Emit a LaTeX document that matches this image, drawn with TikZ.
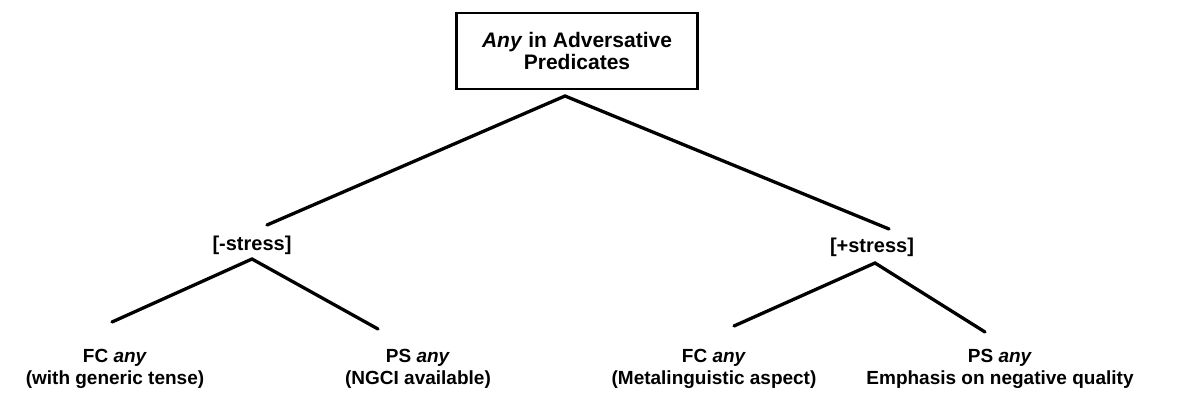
\documentclass[tikz,border=0pt]{standalone}
\usepackage{fontspec}
\setmainfont{Liberation Sans}
\begin{document}
\begin{tikzpicture}[x=1pt,y=-1pt,
  branch/.style={line width=3.3pt,line cap=round,line join=miter},
  rootbox/.style={draw,line width=2.6pt,minimum width=241pt,minimum height=76pt,
    align=center,font=\fontsize{21}{21.5}\selectfont\bfseries,inner sep=0pt},
  feature/.style={font=\fontsize{20}{22}\selectfont\bfseries,inner sep=0pt},
  leaf/.style={font=\fontsize{19}{22.5}\selectfont\bfseries,align=center,inner sep=0pt}]
\useasboundingbox (0,0) rectangle (1179,393);

% root of the tree
\node[rootbox] (root) at (577,51) {\textit{Any} in Adversative\\Predicates};
\coordinate (rootfoot) at (565,96);

% stress features
\node[feature] (minus) at (252,245) {[-stress]};
\node[feature] (plus) at (872,247) {[+stress]};
\coordinate (minustop) at (267,225);
\coordinate (plustop) at (889,229);
\coordinate (minusfoot) at (252,259);
\coordinate (plusfoot) at (875,263);

% readings of any
\node[leaf] (fcl) at (115,369) {FC \textit{any}\hspace{6pt}\\(with generic tense)};
\node[leaf] (psl) at (418,369) {PS \textit{any}\hspace{10pt}\\(NGCI available)};
\node[leaf] (fcr) at (714,369) {FC \textit{any}\hspace{10pt}\\(Metalinguistic aspect)};
\node[leaf] (psr) at (1000,369) {PS \textit{any}\hspace{8pt}\\Emphasis on negative quality};
\coordinate (fcltop) at (112,322);
\coordinate (psltop) at (378,329);
\coordinate (fcrtop) at (734,326);
\coordinate (psrtop) at (985,332);

% branches
\draw[branch] (minustop) -- (rootfoot) -- (plustop);
\draw[branch] (fcltop) -- (minusfoot) -- (psltop);
\draw[branch] (fcrtop) -- (plusfoot) -- (psrtop);
\end{tikzpicture}
\end{document}
